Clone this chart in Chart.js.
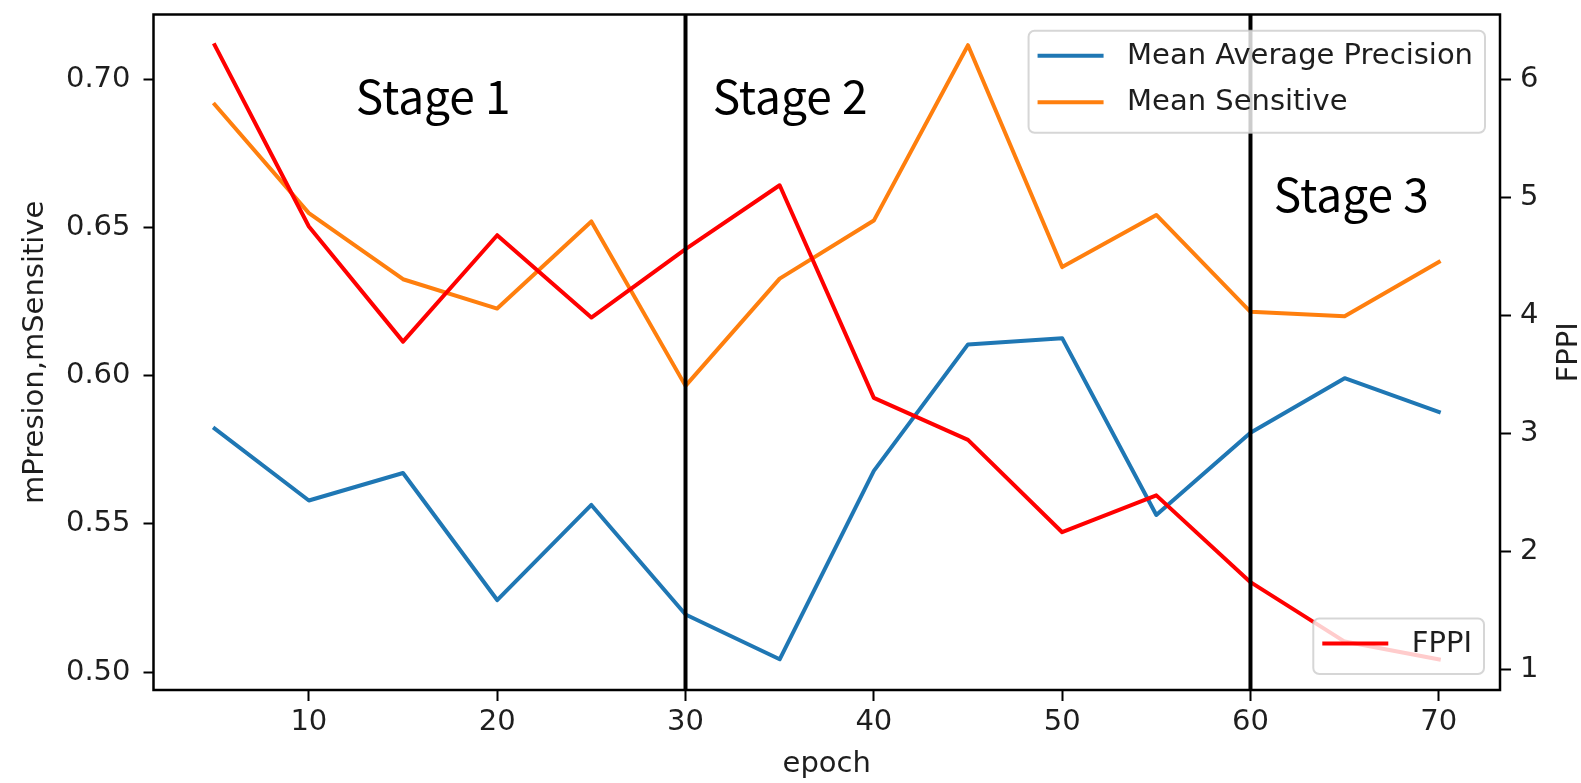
<!DOCTYPE html>
<html>
<head>
<meta charset="utf-8">
<script src="https://cdn.jsdelivr.net/npm/chart.js@4.4.1/dist/chart.umd.min.js"></script>
<style>
  html, body { margin: 0; padding: 0; background: #ffffff; }
  canvas { display: block; }
</style>
</head>
<body>
<canvas id="chart" width="1581" height="783"></canvas>
<script>
// ---- data ----
const epochs = [5, 10, 15, 20, 25, 30, 35, 40, 45, 50, 55, 60, 65, 70];
const meanAP = [0.5822, 0.5579, 0.5672, 0.5243, 0.5564, 0.5194, 0.5043, 0.5679, 0.6106, 0.6127, 0.5530, 0.5808, 0.5992, 0.5878];
const meanSens = [0.6916, 0.6549, 0.6326, 0.6227, 0.6521, 0.5966, 0.6328, 0.6524, 0.7116, 0.6367, 0.6543, 0.6216, 0.6201, 0.6384];
const fppi = [6.29, 4.755, 3.78, 4.681, 3.984, 4.564, 5.104, 3.304, 2.948, 2.166, 2.478, 1.743, 1.24, 1.09];

const xTicks = [10, 20, 30, 40, 50, 60, 70];
const leftTicks = [0.50, 0.55, 0.60, 0.65, 0.70];
const rightTicks = [1, 2, 3, 4, 5, 6];

// training stage boundaries (epochs) and stage captions in data coordinates
const stageBounds = [30, 60];
const stageLabels = ['Stage 1', 'Stage 2', 'Stage 3'];
const stageX = [12.49, 31.44, 61.24];
const stageY = [0.6883, 0.6883, 0.6554];

// ---- helpers ----
function autoRange(values) {
  const lo = Math.min(...values), hi = Math.max(...values);
  const m = (hi - lo) * 0.05;
  return { min: lo - m, max: hi + m };
}
const toPoints = (ys) => ys.map((y, i) => ({ x: epochs[i], y }));

const xRange = autoRange(epochs);
const leftRange = autoRange(meanAP.concat(meanSens));
const rightRange = autoRange(fppi);

const FONT = 'DejaVu Sans';
const FS = 29;
const TEXT = '#1e1e1e';

function roundRect(ctx, x, y, w, h, r) {
  ctx.beginPath();
  ctx.moveTo(x + r, y);
  ctx.lineTo(x + w - r, y);
  ctx.arcTo(x + w, y, x + w, y + r, r);
  ctx.lineTo(x + w, y + h - r);
  ctx.arcTo(x + w, y + h, x + w - r, y + h, r);
  ctx.lineTo(x + r, y + h);
  ctx.arcTo(x, y + h, x, y + h - r, r);
  ctx.lineTo(x, y + r);
  ctx.arcTo(x, y, x + r, y, r);
  ctx.closePath();
}

function drawLegend(ctx, datasets, anchor) {
  ctx.font = FS + 'px "' + FONT + '"';
  const padL = 9, handle = 66, gap = 23.5, padR = 12;
  const padT = 25, rowH = 46.6, padB = 30.5;
  const textW = Math.max(...datasets.map(d => ctx.measureText(d.label).width));
  const w = padL + handle + gap + textW + padR;
  const h = padT + (datasets.length - 1) * rowH + padB;
  const x = anchor.right - w;
  const y = anchor.top !== undefined ? anchor.top : anchor.bottom - h;

  roundRect(ctx, x, y, w, h, 6);
  ctx.fillStyle = 'rgba(255,255,255,0.8)';
  ctx.fill();
  ctx.strokeStyle = 'rgba(204,204,204,0.8)';
  ctx.lineWidth = 2;
  ctx.stroke();

  datasets.forEach((d, i) => {
    const cy = y + padT + i * rowH;
    ctx.strokeStyle = d.borderColor;
    ctx.lineWidth = d.borderWidth;
    ctx.lineCap = 'butt';
    ctx.beginPath();
    ctx.moveTo(x + padL, cy);
    ctx.lineTo(x + padL + handle, cy);
    ctx.stroke();
    ctx.fillStyle = TEXT;
    ctx.textAlign = 'left';
    ctx.textBaseline = 'middle';
    ctx.fillText(d.label, x + padL + handle + gap, cy + 0.5);
  });
}

const background = {
  id: 'background',
  beforeDraw(chart) {
    const ctx = chart.ctx;
    ctx.save();
    ctx.fillStyle = '#ffffff';
    ctx.fillRect(0, 0, chart.width, chart.height);
    ctx.restore();
  }
};

const overlay = {
  id: 'overlay',
  afterDatasetsDraw(chart) {
    const { ctx, chartArea: a, scales } = chart;
    ctx.save();

    // stage separators
    ctx.strokeStyle = '#000000';
    ctx.lineWidth = 4;
    stageBounds.forEach(v => {
      const px = scales.x.getPixelForValue(v);
      ctx.beginPath();
      ctx.moveTo(px, a.top);
      ctx.lineTo(px, a.bottom);
      ctx.stroke();
    });

    // axes frame
    ctx.lineWidth = 2.5;
    ctx.strokeStyle = '#000000';
    ctx.strokeRect(a.left, a.top, a.right - a.left, a.bottom - a.top);

    // stage captions
    ctx.fillStyle = '#000000';
    ctx.font = '46px "Noto Sans CJK SC"';
    ctx.textAlign = 'left';
    ctx.textBaseline = 'alphabetic';
    stageLabels.forEach((t, i) => {
      ctx.fillText(t, scales.x.getPixelForValue(stageX[i]), scales.y.getPixelForValue(stageY[i]));
    });

    // right axis title
    ctx.save();
    ctx.font = FS + 'px "' + FONT + '"';
    ctx.fillStyle = TEXT;
    ctx.textAlign = 'center';
    ctx.textBaseline = 'middle';
    ctx.translate(a.right + 69, (a.top + a.bottom) / 2);
    ctx.rotate(-Math.PI / 2);
    ctx.fillText('FPPI', 0, 0);
    ctx.restore();

    // legends
    const ds = chart.data.datasets;
    drawLegend(ctx, ds.filter(d => d.yAxisID === 'y'), { right: a.right - 15, top: a.top + 16.2 });
    drawLegend(ctx, ds.filter(d => d.yAxisID === 'y1'), { right: a.right - 16, bottom: a.bottom - 16 });

    ctx.restore();
  }
};

// keep the plot box fixed: no extra room reserved for overhanging tick labels
function noOverhang(s) {
  s.paddingTop = 0; s.paddingBottom = 0; s.paddingLeft = 0; s.paddingRight = 0;
}

Chart.defaults.font.family = FONT;
Chart.defaults.font.size = FS;
Chart.defaults.color = TEXT;

new Chart(document.getElementById('chart'), {
  type: 'line',
  data: {
    datasets: [
      { label: 'Mean Average Precision', data: toPoints(meanAP), yAxisID: 'y',
        borderColor: '#1f77b4', borderWidth: 4, order: 3 },
      { label: 'Mean Sensitive', data: toPoints(meanSens), yAxisID: 'y',
        borderColor: '#ff7f0e', borderWidth: 4, order: 2 },
      { label: 'FPPI', data: toPoints(fppi), yAxisID: 'y1',
        borderColor: '#ff0000', borderWidth: 4, order: 1 }
    ]
  },
  options: {
    responsive: false,
    animation: false,
    events: [],
    elements: {
      point: { radius: 0 },
      line: { tension: 0, borderJoinStyle: 'round', borderCapStyle: 'square', fill: false }
    },
    layout: { padding: { top: 14.5, left: 0, right: 0, bottom: 0 } },
    plugins: { legend: { display: false }, tooltip: { enabled: false } },
    scales: {
      x: {
        type: 'linear',
        min: xRange.min, max: xRange.max,
        afterBuildTicks: s => { s.ticks = xTicks.map(v => ({ value: v })); },
        afterFit: s => { s.height = 93; noOverhang(s); },
        ticks: { autoSkip: false, maxRotation: 0, padding: 4, callback: v => String(v) },
        grid: { display: true, drawOnChartArea: false, drawTicks: true, tickLength: 11, tickWidth: 2, tickColor: '#000000' },
        border: { display: false },
        title: { display: true, text: 'epoch', padding: { top: 0, bottom: 1 } }
      },
      y: {
        type: 'linear', position: 'left',
        min: leftRange.min, max: leftRange.max,
        afterBuildTicks: s => { s.ticks = leftTicks.map(v => ({ value: v })); },
        afterFit: s => { s.width = 153.5; noOverhang(s); },
        ticks: { padding: 13, callback: v => Number(v).toFixed(2) },
        grid: { display: true, drawOnChartArea: false, drawTicks: true, tickLength: 10, tickWidth: 2, tickColor: '#000000' },
        border: { display: false },
        title: { display: true, text: 'mPresion,mSensitive', padding: { top: 18, bottom: 0 } }
      },
      y1: {
        type: 'linear', position: 'right',
        min: rightRange.min, max: rightRange.max,
        afterBuildTicks: s => { s.ticks = rightTicks.map(v => ({ value: v })); },
        afterFit: s => { s.width = 81; noOverhang(s); },
        ticks: { padding: 9, callback: v => String(v) },
        grid: { display: true, drawOnChartArea: false, drawTicks: true, tickLength: 11, tickWidth: 2, tickColor: '#000000' },
        border: { display: false }
      }
    }
  },
  plugins: [background, overlay]
});
</script>
</body>
</html>
